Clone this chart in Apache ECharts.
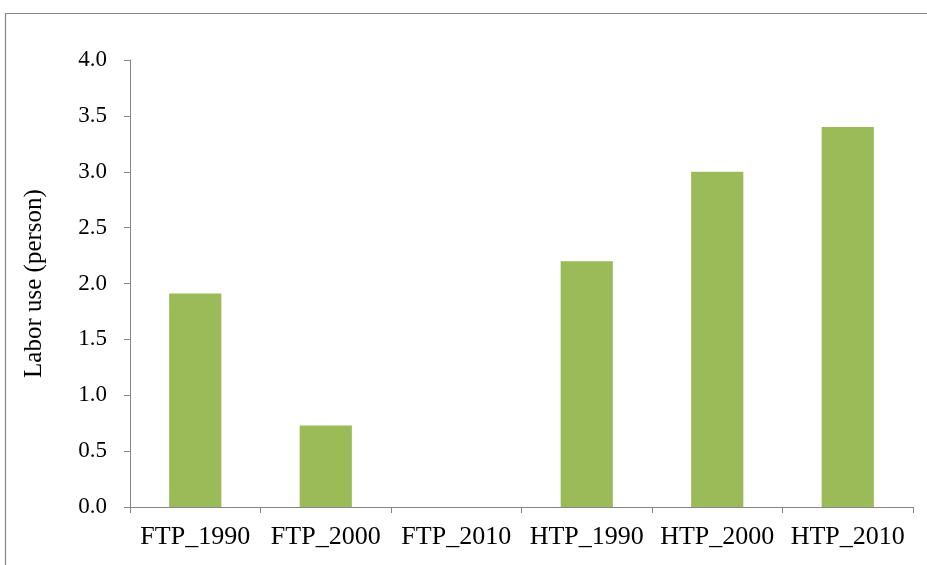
<!DOCTYPE html>
<html>
<head>
<meta charset="utf-8">
<script src="https://cdn.jsdelivr.net/npm/echarts@6/dist/echarts.min.js"></script>
<style>
html,body{margin:0;padding:0;background:#fff;}
#chart{width:927px;height:565px;}
</style>
</head>
<body>
<div id="chart"></div>
<script>
const categories = ['FTP_1990', 'FTP_2000', 'FTP_2010', 'HTP_1990', 'HTP_2000', 'HTP_2010'];
const laborUse = [1.91, 0.73, 0, 2.2, 3.0, 3.4];
const yTicks = { min: 0, max: 4, interval: 0.5 };
const yTitle = 'Labor use (person)';

const chart = echarts.init(document.getElementById('chart'), null, { renderer: 'canvas' });
const font = 'Liberation Serif, Times New Roman, serif';
chart.setOption({
  animation: false,
  backgroundColor: '#fff',
  graphic: [{
    type: 'rect',
    shape: { x: 5.5, y: 13.5, width: 1000, height: 1000 },
    style: { fill: 'none', stroke: '#868686', lineWidth: 1.2 },
    silent: true
  }],
  grid: { left: 130, right: 14, top: 60, bottom: 58, containLabel: false },
  xAxis: {
    type: 'category',
    data: categories,
    boundaryGap: true,
    axisLine: { lineStyle: { color: '#868686', width: 1 } },
    axisTick: { show: true, alignWithLabel: false, length: 6, lineStyle: { color: '#868686' } },
    axisLabel: { color: '#000', fontFamily: font, fontSize: 26, margin: 17, interval: 0 },
    splitLine: { show: false }
  },
  yAxis: {
    type: 'value',
    min: yTicks.min,
    max: yTicks.max,
    interval: yTicks.interval,
    name: yTitle,
    nameLocation: 'middle',
    nameRotate: 90,
    nameGap: 83,
    nameTextStyle: { color: '#000', fontFamily: font, fontSize: 25 },
    axisLine: { show: true, lineStyle: { color: '#868686', width: 1 } },
    axisTick: { show: true, length: 6, lineStyle: { color: '#868686' } },
    axisLabel: { color: '#000', fontFamily: font, fontSize: 23, margin: 23, formatter: v => v.toFixed(1) },
    splitLine: { show: false }
  },
  series: [{
    type: 'bar',
    data: laborUse,
    barWidth: '40%',
    itemStyle: { color: '#9BBB59' }
  }]
});
</script>
</body>
</html>
